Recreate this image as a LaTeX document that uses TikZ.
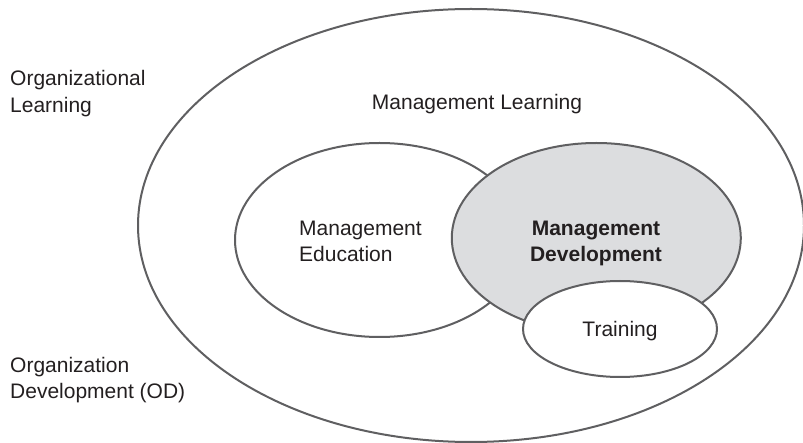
\documentclass[tikz,border=0pt]{standalone}
\usepackage{fontspec}
\setmainfont{Liberation Sans}
\usetikzlibrary{shapes.geometric}
\definecolor{linegray}{RGB}{95,95,97}
\definecolor{fillgray}{RGB}{220,221,223}
\definecolor{textdark}{RGB}{35,31,32}
\tikzset{
  ring/.style={ellipse, draw=linegray, line width=2pt, inner sep=0pt},
  lbl/.style={text=textdark, font=\fontsize{21}{26.7}\selectfont, inner sep=0pt, align=left},
  clbl/.style={text=textdark, font=\fontsize{21}{26.7}\selectfont, inner sep=0pt, align=center}
}
\begin{document}
\begin{tikzpicture}[x=1pt,y=-1pt]
\useasboundingbox (0,0) rectangle (803,443);
\node[ring, minimum width=666pt, minimum height=433pt] (outer) at (471,225.5) {};
\node[ring, fill=white, minimum width=289pt, minimum height=194pt] (edu) at (379.5,240) {};
\node[ring, fill=fillgray, minimum width=289pt, minimum height=190pt] (dev) at (596.3,238) {};
\node[ring, fill=white, minimum width=194pt, minimum height=96pt] (train) at (620,329) {};
\node[lbl, anchor=base west] (orgl) at (10,112.7) {Organizational\\Learning};
\node[lbl, anchor=base west] (orgd) at (10,399) {Organization\\Development (OD)};
\node[clbl, anchor=base] (mlearn) at (477,110) {Management Learning};
\node[lbl, anchor=base west] (medu) at (299,262) {Management\\Education};
\node[clbl, anchor=base, font=\fontsize{21}{26.7}\selectfont\bfseries] (mdev) at (596,262) {Management\\Development};
\node[clbl, anchor=base] (mtrain) at (620,337) {Training};
\end{tikzpicture}
\end{document}
